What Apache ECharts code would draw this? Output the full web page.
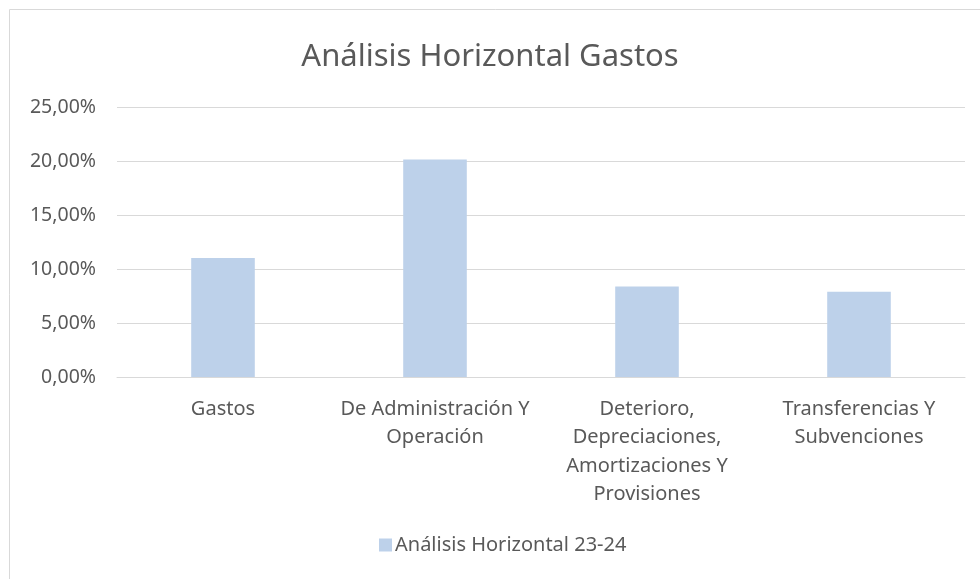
<!DOCTYPE html>
<html><head><meta charset="utf-8">
<script src="https://cdn.jsdelivr.net/npm/echarts@6/dist/echarts.min.js"></script>
<style>html,body{margin:0;padding:0;background:#fff}#c{width:980px;height:579px}</style>
</head><body><div id="c"></div>
<script>
const categories = ["Gastos", "De Administración Y\nOperación", "Deterioro,\nDepreciaciones,\nAmortizaciones Y\nProvisiones", "Transferencias Y\nSubvenciones"];
const seriesName = "Análisis Horizontal 23-24";
const values = [11.03, 20.15, 8.39, 7.90];
const titleText = "Análisis Horizontal Gastos";

const FONT = "Noto Sans";
const TXT = "#595959";
const chart = echarts.init(document.getElementById('c'), null, {renderer: 'canvas'});
chart.setOption({
  animation: false,
  textStyle: {fontFamily: FONT},
  graphic: [{type: 'rect', shape: {x: 9.5, y: 9.5, width: 1000, height: 600}, style: {fill: 'none', stroke: '#D9D9D9', lineWidth: 1}, silent: true}],
  title: {text: titleText, left: 'center', top: 37, textStyle: {fontFamily: FONT, fontSize: 31, fontWeight: 'normal', color: TXT}},
  legend: {top: 535, left: 379, padding: 0, itemWidth: 13, itemHeight: 13, itemGap: 5, icon: 'rect',
    textStyle: {fontFamily: FONT, fontSize: 20, color: TXT, padding: [0,0,0,-2]}, data: [seriesName]},
  grid: {left: 117, right: 15, top: 107, bottom: 202, containLabel: false},
  xAxis: {type: 'category', data: categories, axisTick: {show: false},
    axisLine: {lineStyle: {color: '#D9D9D9', width: 1}},
    axisLabel: {interval: 0, margin: 18, fontFamily: FONT, fontSize: 20, color: TXT, lineHeight: 28.5, verticalAlign: 'top'}},
  yAxis: {type: 'value', min: 0, max: 25, interval: 5,
    axisLine: {show: false}, axisTick: {show: false},
    splitLine: {lineStyle: {color: '#D9D9D9', width: 1}},
    axisLabel: {margin: 21, fontFamily: FONT, fontSize: 19.5, color: TXT,
      formatter: v => v.toFixed(2).replace('.', ',') + '%'}},
  series: [{name: seriesName, type: 'bar', data: values, barWidth: '30%', itemStyle: {color: '#BDD1EA'}}]
});
</script></body></html>
